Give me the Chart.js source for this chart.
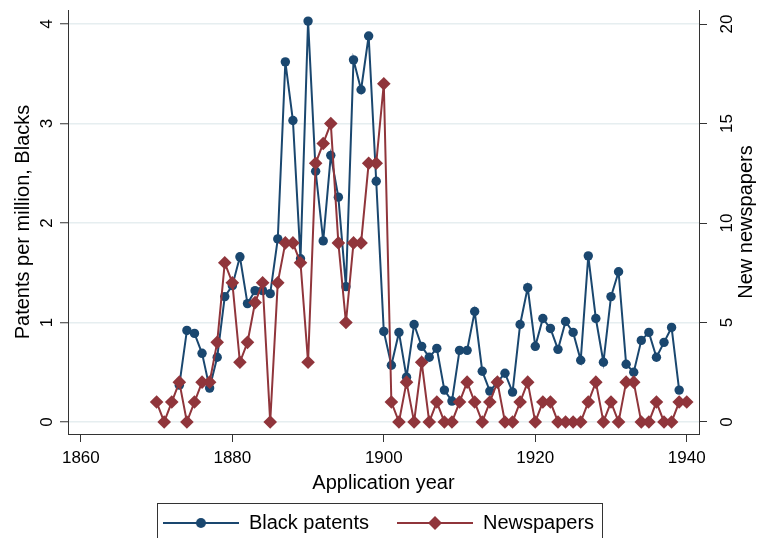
<!DOCTYPE html>
<html>
<head>
<meta charset="utf-8">
<script src="https://cdn.jsdelivr.net/npm/chart.js@4.4.0/dist/chart.umd.min.js"></script>
<style>
  html, body { margin: 0; padding: 0; background: #fff; overflow: hidden; }
  #chart { display: block; }
</style>
</head>
<body>
<canvas id="chart" width="757" height="543" style="width:757px;height:543px"></canvas>
<script>
// application years
const years = [1870, 1871, 1872, 1873, 1874, 1875, 1876, 1877, 1878, 1879,
  1880, 1881, 1882, 1883, 1884, 1885, 1886, 1887, 1888, 1889,
  1890, 1891, 1892, 1893, 1894, 1895, 1896, 1897, 1898, 1899,
  1900, 1901, 1902, 1903, 1904, 1905, 1906, 1907, 1908, 1909,
  1910, 1911, 1912, 1913, 1914, 1915, 1916, 1917, 1918, 1919,
  1920, 1921, 1922, 1923, 1924, 1925, 1926, 1927, 1928, 1929,
  1930, 1931, 1932, 1933, 1934, 1935, 1936, 1937, 1938, 1939, 1940];

// patents per million, blacks (left axis)
const blackPatents = [null, null, null, 0.37, 0.92, 0.89, 0.69, 0.34, 0.65, 1.26,
  1.37, 1.66, 1.19, 1.32, 1.32, 1.29, 1.84, 3.62, 3.03, 1.64,
  4.03, 2.52, 1.82, 2.68, 2.26, 1.36, 3.64, 3.34, 3.88, 2.42,
  0.91, 0.57, 0.90, 0.45, 0.98, 0.76, 0.65, 0.74, 0.32, 0.21,
  0.72, 0.72, 1.11, 0.51, 0.31, 0.40, 0.49, 0.30, 0.98, 1.35,
  0.76, 1.04, 0.94, 0.73, 1.01, 0.90, 0.62, 1.67, 1.04, 0.60,
  1.26, 1.51, 0.58, 0.50, 0.82, 0.90, 0.65, 0.80, 0.95, 0.32, null];

// new newspapers (right axis)
const newspapers = [1, 0, 1, 2, 0, 1, 2, 2, 4, 8,
  7, 3, 4, 6, 7, 0, 7, 9, 9, 8,
  3, 13, 14, 15, 9, 5, 9, 9, 13, 13,
  17, 1, 0, 2, 0, 3, 0, 1, 0, 0,
  1, 2, 1, 0, 1, 2, 0, 0, 1, 2,
  0, 1, 1, 0, 0, 0, 0, 1, 2, 0,
  1, 0, 2, 2, 0, 0, 1, 0, 0, 1, 1];

const yearTicks = [1860, 1880, 1900, 1920, 1940];
const leftTicks = [0, 1, 2, 3, 4];
const rightTicks = [0, 5, 10, 15, 20];

const navy = '#1a476f';
const maroon = '#90353b';
const axisColor = '#333';

Chart.defaults.font.family = "'Liberation Sans', Arial, Helvetica, sans-serif";
Chart.defaults.color = '#000';

function points(vals) {
  return years.map((yr, i) => ({ x: yr, y: vals[i] }));
}

function toTicks(list) {
  return function (scale) {
    scale.ticks = list.map(v => ({ value: v }));
  };
}

// fixed box sizes so the plot area lands where the original one is
function fixSize(w, h) {
  return function (s) {
    if (w != null) s.width = w;
    if (h != null) s.height = h;
    s.paddingTop = 0; s.paddingBottom = 0;
    s.paddingLeft = 0; s.paddingRight = 0;
  };
}

// little line + marker images for the legend
function legendSample(color, shape) {
  var c = document.createElement('canvas');
  c.width = 76; c.height = 16;
  var g = c.getContext('2d');
  g.strokeStyle = color; g.fillStyle = color; g.lineWidth = 2;
  g.beginPath(); g.moveTo(0, 8); g.lineTo(76, 8); g.stroke();
  g.beginPath();
  if (shape == 'circle') {
    g.arc(38, 8, 5, 0, Math.PI * 2);
  } else {
    g.moveTo(31, 8); g.lineTo(38, 1); g.lineTo(45, 8); g.lineTo(38, 15); g.closePath();
  }
  g.fill();
  return c;
}

const extras = {
  id: 'extras',
  afterDraw(chart) {
    const ctx = chart.ctx;
    const area = chart.chartArea;
    ctx.save();
    // right axis title, reading upwards
    ctx.font = "20px 'Liberation Sans', Arial, sans-serif";
    ctx.fillStyle = '#000';
    ctx.textAlign = 'center';
    ctx.textBaseline = 'middle';
    ctx.translate(746, (area.top + area.bottom) / 2);
    ctx.rotate(-Math.PI / 2);
    ctx.fillText('New newspapers', 0, 0);
    ctx.restore();

    // legend frame
    const hb = chart.legend.legendHitBoxes;
    if (hb && hb.length) {
      const l = Math.round(hb[0].left - 6) + 0.5;
      const r = Math.round(hb[hb.length - 1].left + hb[hb.length - 1].width + 8) + 0.5;
      ctx.save();
      ctx.strokeStyle = axisColor;
      ctx.lineWidth = 1;
      ctx.strokeRect(l, 503.5, r - l, 60);
      ctx.restore();
    }
  }
};

const ctx = document.getElementById('chart').getContext('2d');
const myChart = new Chart(ctx, {
  type: 'line',
  data: {
    datasets: [{
      label: 'Black patents',
      data: points(blackPatents),
      yAxisID: 'y',
      borderColor: navy,
      backgroundColor: navy,
      borderWidth: 2,
      pointStyle: 'circle',
      pointRadius: 4.7,
      pointBorderWidth: 0,
      pointBackgroundColor: navy,
      tension: 0,
      order: 1
    }, {
      label: 'Newspapers',
      data: points(newspapers),
      yAxisID: 'y2',
      borderColor: maroon,
      backgroundColor: maroon,
      borderWidth: 2,
      pointStyle: 'rectRot',
      pointRadius: 6.8,
      pointBorderWidth: 0,
      pointBackgroundColor: maroon,
      tension: 0,
      order: 0
    }]
  },
  options: {
    responsive: false,
    animation: false,
    layout: { padding: { top: 10 } },
    plugins: {
      tooltip: { enabled: false },
      legend: {
        position: 'bottom',
        labels: {
          usePointStyle: true,
          pointStyleWidth: 76,
          padding: 28,
          color: '#000',
          font: { size: 20 },
          generateLabels: function () {
            return [
              { text: 'Black patents', pointStyle: legendSample(navy, 'circle'), datasetIndex: 0, fontColor: '#000', lineWidth: 0, hidden: false },
              { text: 'Newspapers', pointStyle: legendSample(maroon, 'diamond'), datasetIndex: 1, fontColor: '#000', lineWidth: 0, hidden: false }
            ];
          }
        }
      }
    },
    scales: {
      x: {
        type: 'linear',
        min: 1858.3,
        max: 1941.62,
        afterBuildTicks: toTicks(yearTicks),
        afterFit: fixSize(null, 51),
        ticks: {
          font: { size: 17 },
          color: '#000',
          padding: 6,
          maxRotation: 0,
          autoSkip: false,
          callback: v => String(v)
        },
        grid: { drawOnChartArea: false, tickLength: 8, tickColor: axisColor, tickWidth: 1 },
        border: { color: axisColor, width: 1 },
        title: {
          display: true,
          text: 'Application year',
          color: '#000',
          font: { size: 20 },
          padding: { top: 0, bottom: -10 }
        }
      },
      y: {
        position: 'left',
        min: -0.1212,
        max: 4.1414,
        afterBuildTicks: toTicks(leftTicks),
        afterFit: fixSize(68, null),
        ticks: {
          font: { size: 17 },
          color: '#000',
          minRotation: 90,
          maxRotation: 90,
          crossAlign: 'center',
          padding: 8,
          autoSkip: false
        },
        grid: { color: '#e6eef0', lineWidth: 1.5, tickLength: 8, tickColor: axisColor, tickWidth: 1 },
        border: { color: axisColor, width: 1 },
        title: {
          display: true,
          text: 'Patents per million, Blacks',
          color: '#000',
          font: { size: 20 },
          padding: { top: 11, bottom: 0 }
        }
      },
      y2: {
        position: 'right',
        min: -0.606,
        max: 20.707,
        afterBuildTicks: toTicks(rightTicks),
        afterFit: fixSize(58, null),
        ticks: {
          font: { size: 17 },
          color: '#000',
          minRotation: 90,
          maxRotation: 90,
          crossAlign: 'center',
          padding: 11,
          autoSkip: false
        },
        grid: { drawOnChartArea: false, tickLength: 8, tickColor: axisColor, tickWidth: 1 },
        border: { color: axisColor, width: 1 }
      }
    }
  },
  plugins: [extras]
});
</script>
</body>
</html>
